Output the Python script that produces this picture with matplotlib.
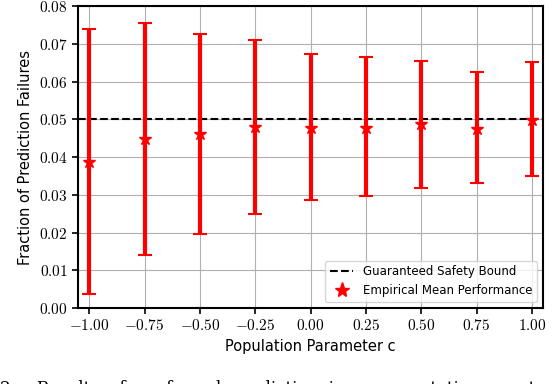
import numpy as np
import matplotlib.pyplot as plt
from matplotlib.ticker import FuncFormatter
from matplotlib.lines import Line2D

# valores
c_vals = [-1.0, -0.75, -0.5, -0.25, 0.0, 0.25, 0.5, 0.75, 1.0]
mean_fail = [0.0387, 0.0447, 0.0460, 0.0479, 0.0476, 0.0478, 0.0487, 0.0475, 0.0499]
upper = [0.0739, 0.0756, 0.0725, 0.0710, 0.0673, 0.0664, 0.0654, 0.0625, 0.0653]
lower = [0.0036, 0.0141, 0.0196, 0.0250, 0.0287, 0.0297, 0.0318, 0.0331, 0.0349]
bound = 0.05

plt.rcParams['mathtext.fontset'] = 'cm'

mean_fail = np.array(mean_fail)
err = [mean_fail - np.array(lower), np.array(upper) - mean_fail]

fig = plt.figure(figsize=(5.54, 3.84), dpi=100)
ax = fig.add_axes([0.141, 0.198, 0.839, 0.786])

ax.grid(True, color='#b0b0b0', linewidth=0.8, zorder=0)
ax.set_axisbelow(True)

ax.axhline(bound, color='black', linestyle='--', linewidth=1.5, zorder=2)
ax.errorbar(c_vals, mean_fail, yerr=err, fmt='*', color='red', ecolor='red',
            elinewidth=3, capsize=5, capthick=1.5, markersize=9, zorder=3)

ax.set_xlim(-1.05, 1.05)
ax.set_ylim(0.0, 0.08)
ax.set_xticks(c_vals)
ax.set_yticks(np.arange(0, 0.081, 0.01))
ax.xaxis.set_major_formatter(FuncFormatter(lambda v, p: r'$%.2f$' % v))
ax.yaxis.set_major_formatter(FuncFormatter(lambda v, p: r'$%.2f$' % v))
ax.tick_params(labelsize=11, width=1.2, length=4)
for s in ax.spines.values():
    s.set_linewidth(1.5)

ax.set_xlabel('Population Parameter c', fontsize=10.5)
ax.set_ylabel('Fraction of Prediction Failures', fontsize=10.5)

# leyenda: solo la estrella, sin barra de error
handles = [Line2D([], [], color='black', linestyle='--', linewidth=1.5),
           Line2D([], [], color='red', marker='*', linestyle='none', markersize=11)]
labels = ['Guaranteed Safety Bound', 'Empirical Mean Performance']
ax.legend(handles, labels, loc='lower right', fontsize=8.5, framealpha=0.8)

# pie de figura recortado (como en la imagen original)
fig.text(0.0, -0.012, '2.    Results  of  conformal  prediction  in  representation  constraining',
         family='serif', fontsize=12, va='center', ha='left')

fig.savefig('out.png', dpi=100)
